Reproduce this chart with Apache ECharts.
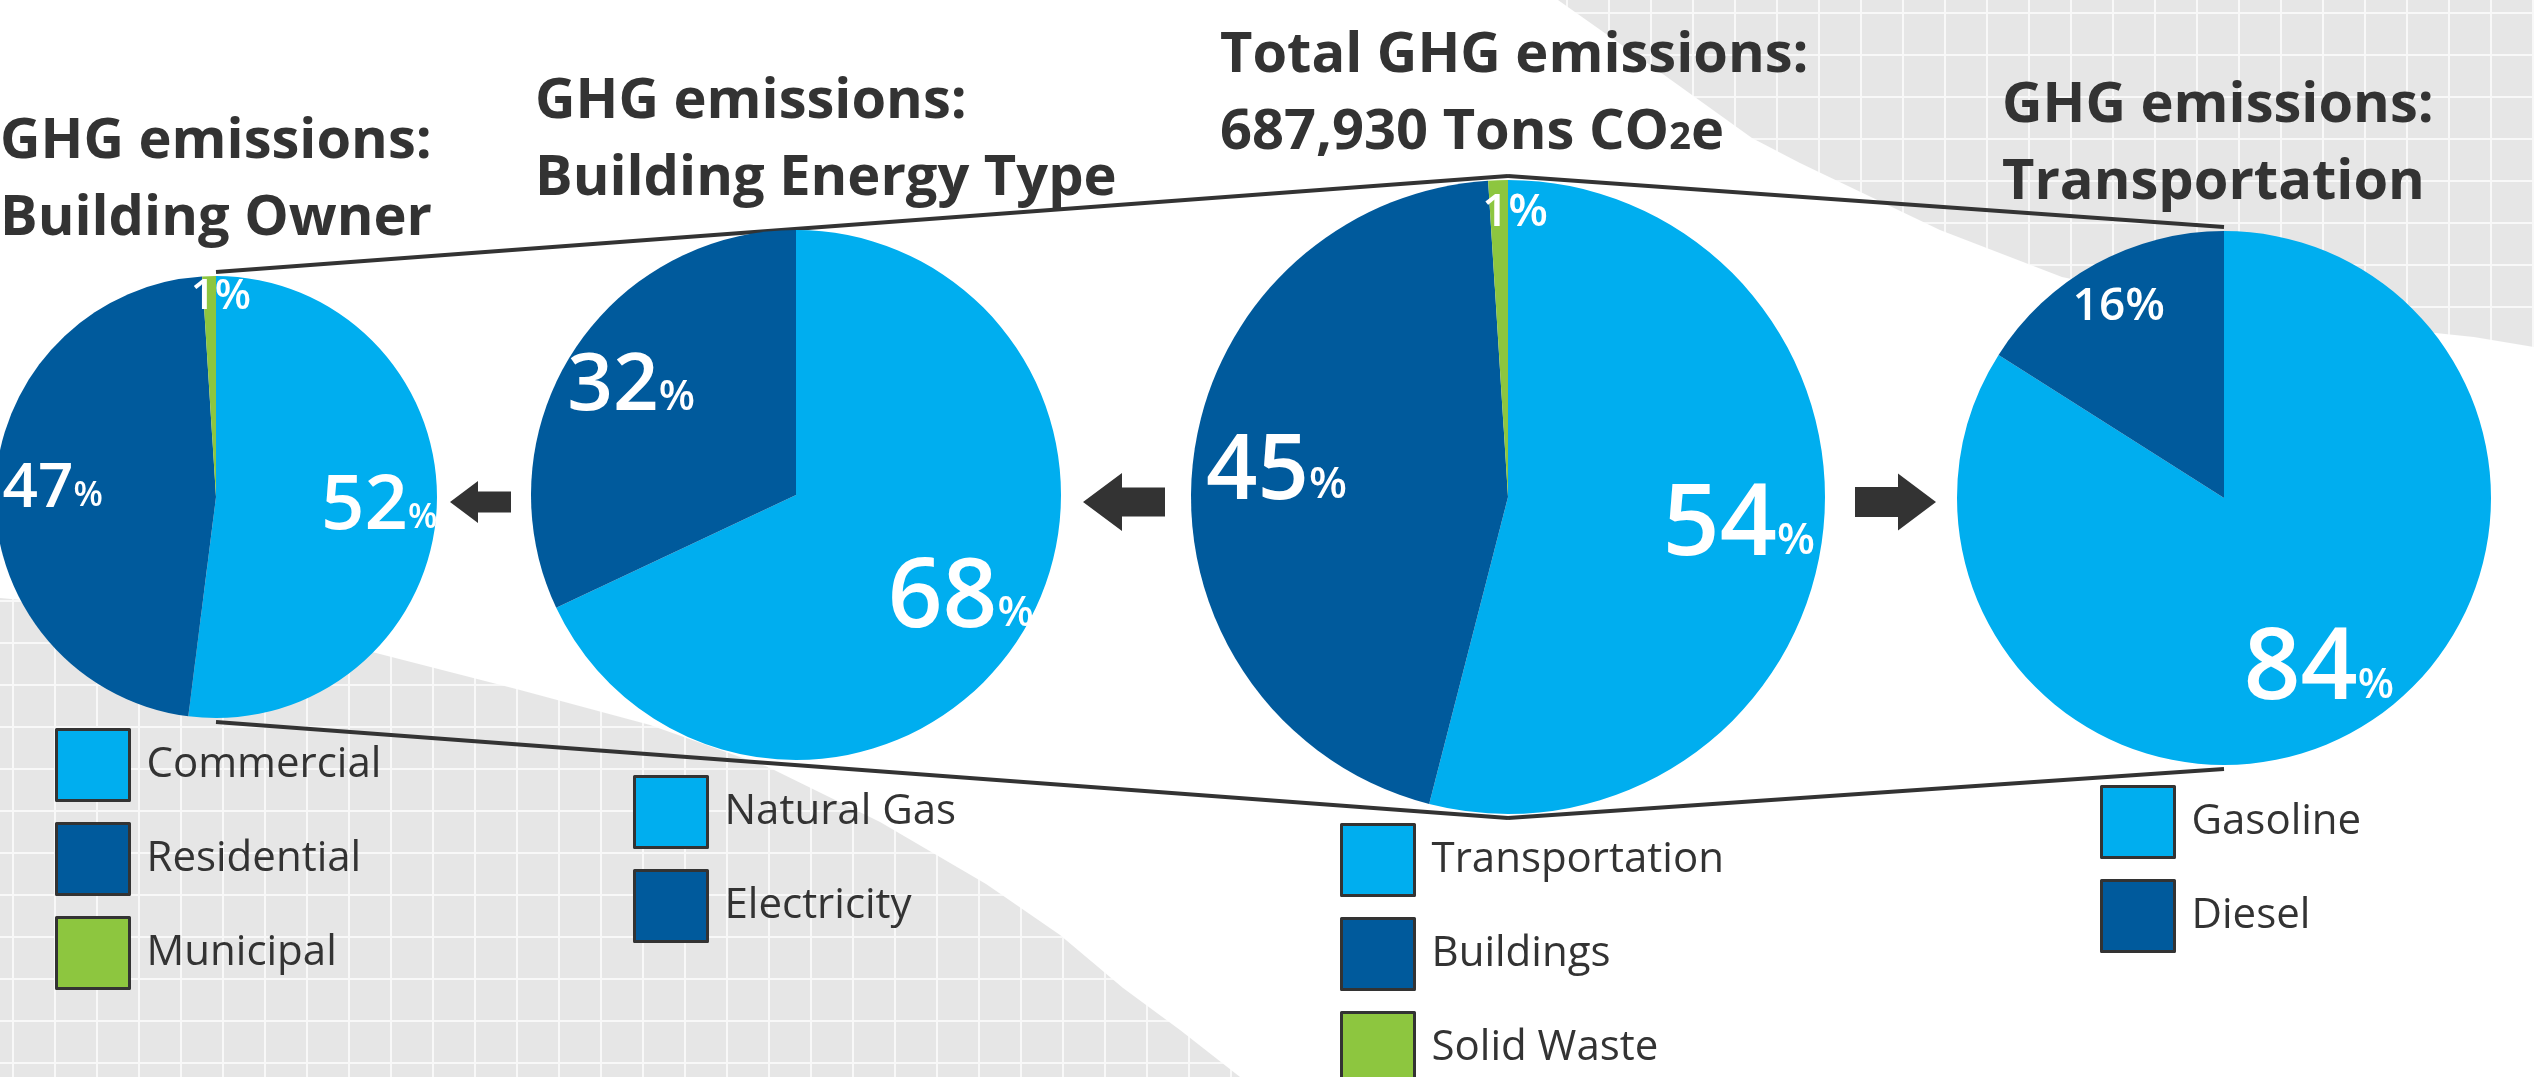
<!DOCTYPE html>
<html>
<head>
<meta charset="utf-8">
<title>GHG emissions</title>
<script src="https://cdn.jsdelivr.net/npm/echarts@6/dist/echarts.min.js"></script>
<style>
  html, body { margin: 0; padding: 0; background: #fff; }
  #echarts { width: 2534px; height: 1077px; }
</style>
</head>
<body>
<div id="echarts"></div>
<script>
// 数据
var ownerNames = ['Commercial', 'Residential', 'Municipal'];
var ownerValues = [52, 47, 1];
var energyNames = ['Natural Gas', 'Electricity'];
var energyValues = [68, 32];
var totalNames = ['Transportation', 'Buildings', 'Solid Waste'];
var totalValues = [54, 45, 1];
var transportNames = ['Gasoline', 'Diesel'];
var transportValues = [84, 16];

var titleTexts = [
  'GHG emissions:\nBuilding Owner',
  'GHG emissions:\nBuilding Energy Type',
  'Total GHG emissions:\n687,930 Tons CO{sub|2}e',
  'GHG emissions:\nTransportation'
];

var FONT = 'Open Sans';
var TEXT = '#333333';
var sliceColors = ['#00AEEF', '#005A9C', '#8DC63F'];

// 饼图位置、半径、标签字号
var pieLayout = [
  { center: [216, 497], r: 221, big: 76, mid: 62, small: 42, pct: 34 },
  { center: [796, 495], r: 265, big: 96, mid: 80, small: 46, pct: 42 },
  { center: [1508, 497], r: 317, big: 100, mid: 90, small: 46, pct: 44 },
  { center: [2224, 498], r: 267, big: 100, mid: 80, small: 46, pct: 42 }
];
var pieNames = [ownerNames, energyNames, totalNames, transportNames];
var pieValues = [ownerValues, energyValues, totalValues, transportValues];
var titlePos = [[0, 104], [535, 64], [1220, 18], [2002, 68]];
var legendPos = [[55, 728], [633, 775], [1340, 823], [2100, 785]];

function gridPattern() {
  var c = document.createElement('canvas');
  c.width = 42; c.height = 42;
  var g = c.getContext('2d');
  g.fillStyle = '#e6e6e6';
  g.fillRect(0, 0, 42, 42);
  g.fillStyle = '#f8f8f8';
  g.fillRect(12, 0, 2, 42);
  g.fillRect(0, 12, 42, 2);
  return c;
}

function labelText(p) {
  var key = p.value >= 50 ? 'big' : (p.value >= 20 ? 'mid' : 'small');
  var pk = key === 'small' ? 'small' : 'pct';
  return '{' + key + '|' + p.value + '}{' + pk + '|%}';
}

// 不同字号底部对齐时，用下内边距把基线拉平（small 的数字和 % 同字号，不用补）
function richFor(L) {
  function st(size, pad) {
    return { fontSize: size, verticalAlign: 'bottom', padding: [0, 0, pad ? Math.round(0.232 * (L.big - size)) : 0, 0],
      color: '#fff', fontFamily: FONT, fontWeight: 600 };
  }
  return { big: st(L.big, true), mid: st(L.mid, true), small: st(L.small, false), pct: st(L.pct, true) };
}

// 把内部标签从半径一半处往外推
function pushLabel(p) {
  var L = pieLayout[p.seriesIndex];
  var v = pieValues[p.seriesIndex][p.dataIndex];
  var rc = p.labelRect;
  var ox = rc.x + rc.width / 2 - L.center[0];
  var oy = rc.y + rc.height / 2 - L.center[1];
  var k = v < 5 ? 0.76 : (v < 20 ? 0.6 : 0.44);
  return { dx: ox * k + (v < 5 ? L.r * 0.05 : 0), dy: oy * k };
}

var series = pieLayout.map(function (L, i) {
  return {
    type: 'pie',
    center: L.center,
    radius: L.r,
    startAngle: 90,
    clockwise: true,
    silent: true,
    avoidLabelOverlap: false,
    label: { show: true, position: 'inside', formatter: labelText, rich: richFor(L) },
    labelLine: { show: false },
    labelLayout: pushLabel,
    itemStyle: { borderWidth: 0 },
    emphasis: { disabled: true },
    data: pieNames[i].map(function (n, j) {
      return { name: n, value: pieValues[i][j], itemStyle: { color: sliceColors[j] } };
    })
  };
});

var titles = titleTexts.map(function (t, i) {
  return {
    text: t, left: titlePos[i][0], top: titlePos[i][1], padding: 0,
    textStyle: {
      fontSize: 56, fontWeight: 700, fontFamily: FONT, color: TEXT, lineHeight: 77,
      rich: { sub: { fontSize: 38, fontWeight: 700, fontFamily: FONT, color: TEXT, verticalAlign: 'bottom', padding: [0, 0, 15, 0] } }
    }
  };
});

var legends = pieNames.map(function (names, i) {
  return {
    data: names, orient: 'vertical', left: legendPos[i][0], top: legendPos[i][1], height: 400, padding: 0,
    icon: 'rect', itemWidth: 73, itemHeight: 71, itemGap: 20, selectedMode: false,
    itemStyle: { borderColor: '#333', borderWidth: 3 },
    textStyle: { fontSize: 42, fontFamily: FONT, color: TEXT, padding: [0, 0, 0, 12] }
  };
});

// 装饰：灰色网格底、连接线、箭头
var pattern = { image: gridPattern(), repeat: 'repeat' };
var greyLeft = [[0, 598], [150, 612], [300, 636], [372, 652], [520, 690], [650, 725], [768, 767],
  [880, 822], [986, 884], [1060, 935], [1123, 988], [1180, 1030], [1240, 1077], [0, 1077]];
var greyRight = [[1558, 0], [1660, 72], [1752, 138], [1800, 163], [1940, 230], [2062, 277],
  [2200, 305], [2350, 324], [2474, 337], [2534, 347], [2534, 0]];

function topOf(L) { return [L.center[0], L.center[1] - L.r - 4]; }
function bottomOf(L) { return [L.center[0], L.center[1] + L.r + 4]; }
function connector(a, b) {
  return { type: 'line', z: 1, silent: true,
    shape: { x1: a[0], y1: a[1], x2: b[0], y2: b[1] },
    style: { stroke: '#333', lineWidth: 4 } };
}
function arrow(tipX, cy, len, headLen, headH, shaftH, dir) {
  var s = dir;  // -1 左, 1 右
  var pts = [
    [tipX, cy],
    [tipX - s * headLen, cy - headH / 2],
    [tipX - s * headLen, cy - shaftH / 2],
    [tipX - s * len, cy - shaftH / 2],
    [tipX - s * len, cy + shaftH / 2],
    [tipX - s * headLen, cy + shaftH / 2],
    [tipX - s * headLen, cy + headH / 2]
  ];
  return { type: 'polygon', z: 1, silent: true, shape: { points: pts }, style: { fill: '#333' } };
}

var P = pieLayout;
var graphics = [
  { type: 'polygon', z: 0, silent: true, shape: { points: greyLeft }, style: { fill: pattern } },
  { type: 'polygon', z: 0, silent: true, shape: { points: greyRight }, style: { fill: pattern } },
  connector(topOf(P[0]), topOf(P[2])),
  connector(topOf(P[2]), topOf(P[3])),
  connector(bottomOf(P[0]), bottomOf(P[2])),
  connector(bottomOf(P[2]), bottomOf(P[3])),
  arrow(450, 502, 61, 28, 42, 21, -1),
  arrow(1083, 502, 82, 39, 58, 29, -1),
  arrow(1936, 502, 81, 38, 57, 30, 1)
];

var myChart = echarts.init(document.getElementById('echarts'));
var option = {
  animation: false,
  backgroundColor: '#ffffff',
  title: titles,
  legend: legends,
  graphic: { elements: graphics },
  series: series
};
myChart.setOption(option);
</script>
</body>
</html>
